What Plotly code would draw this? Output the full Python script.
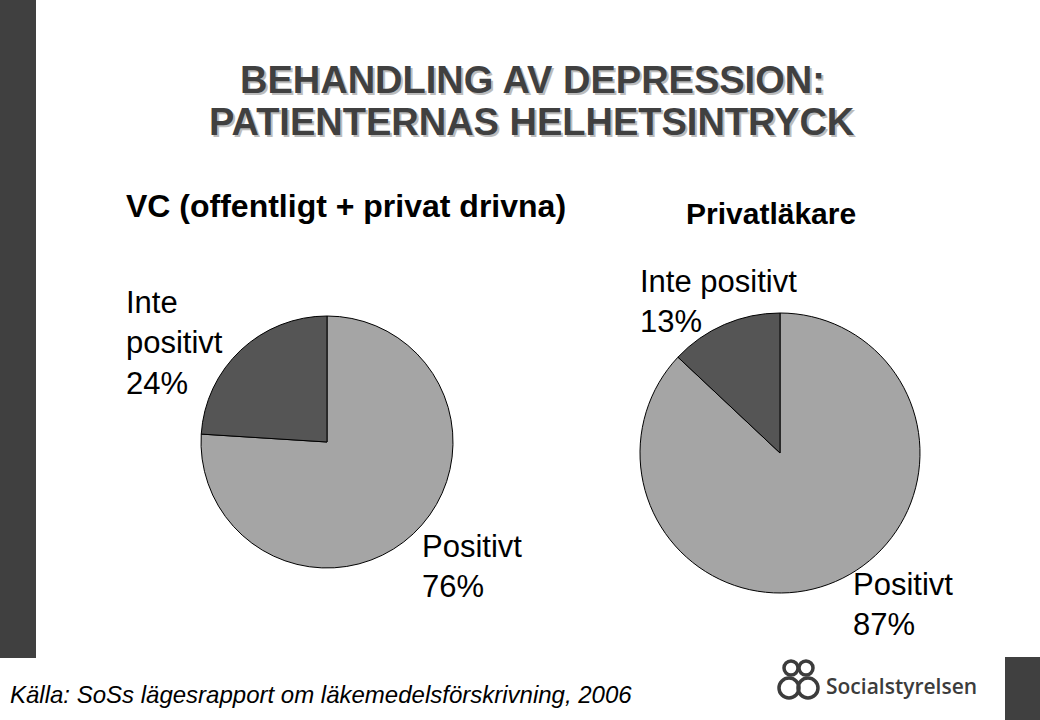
import plotly.graph_objects as go

W, H = 1040, 720

# ---- data ----
categories = ["Positivt", "Inte positivt"]
vc_values = [76, 24]
priv_values = [87, 13]
title_lines = ["BEHANDLING AV DEPRESSION:", "PATIENTERNAS HELHETSINTRYCK"]
sub_vc = "VC (offentligt + privat drivna)"
sub_priv = "Privatläkare"
source = "Källa: SoSs lägesrapport om läkemedelsförskrivning, 2006"
logo_text = "Socialstyrelsen"

colors = ["#a5a5a5", "#555555"]
FONT = "Liberation Sans, Arial, sans-serif"


def px(x):
    return x / W


def py(y):
    return 1 - y / H


def pie_domain(cx, cy, r):
    return dict(x=[px(cx - r), px(cx + r)], y=[py(cy + r), py(cy - r)])


fig = go.Figure()
for vals, dom in [(vc_values, pie_domain(327, 442, 126)),
                  (priv_values, pie_domain(780, 453, 140))]:
    fig.add_trace(go.Pie(
        labels=categories, values=vals, sort=False, direction="clockwise",
        rotation=0, textinfo="none", hoverinfo="label+percent",
        marker=dict(colors=colors, line=dict(color="#000000", width=1)),
        domain=dom, showlegend=False,
    ))

ann = []
# title with shadow
for i, (line, yc) in enumerate(zip(title_lines, [80, 122])):
    ann.append(dict(text=f"<b>{line}</b>", x=px(534), y=py(yc + 2), xanchor="center",
                    yanchor="middle", font=dict(family=FONT, size=38, color="#bcbcbc")))
    ann.append(dict(text=f"<b>{line}</b>", x=px(532), y=py(yc), xanchor="center",
                    yanchor="middle", font=dict(family=FONT, size=38, color="#404040")))

# subtitles
ann.append(dict(text=f"<b>{sub_vc}</b>", x=px(124), y=py(206), xanchor="left", yanchor="middle",
                font=dict(family=FONT, size=32, color="#000000")))
ann.append(dict(text=f"<b>{sub_priv}</b>", x=px(684), y=py(213), xanchor="left", yanchor="middle",
                font=dict(family=FONT, size=30, color="#000000")))

# slice labels
lab_font = dict(family=FONT, size=31, color="#000000")
ann.append(dict(text=f"Inte<br>positivt<br>{vc_values[1]}%", x=px(124), y=py(343),
                xanchor="left", yanchor="middle", align="left", font=lab_font))
ann.append(dict(text=f"{categories[0]}<br>{vc_values[0]}%", x=px(420), y=py(566),
                xanchor="left", yanchor="middle", align="left", font=lab_font))
ann.append(dict(text=f"{categories[1]}<br>{priv_values[1]}%", x=px(638), y=py(301),
                xanchor="left", yanchor="middle", align="left", font=lab_font))
ann.append(dict(text=f"{categories[0]}<br>{priv_values[0]}%", x=px(851), y=py(604),
                xanchor="left", yanchor="middle", align="left", font=lab_font))

# source
ann.append(dict(text=f"<i>{source}</i>", x=px(8), y=py(694), xanchor="left", yanchor="middle",
                font=dict(family=FONT, size=24, color="#000000")))
# logo text
ann.append(dict(text=logo_text, x=px(824), y=py(686), xanchor="left", yanchor="middle",
                font=dict(family="Open Sans, sans-serif", size=21, color="#3c3c3c", weight=600)))

shapes = [
    dict(type="rect", xref="paper", yref="paper", x0=px(0), x1=px(36), y0=py(658), y1=py(0),
         fillcolor="#404040", line=dict(width=0), layer="below"),
    dict(type="rect", xref="paper", yref="paper", x0=px(1005), x1=px(1040), y0=py(720), y1=py(657),
         fillcolor="#404040", line=dict(width=0), layer="below"),
]
# rough logo symbol
for cx, cy, r in [(791, 668, 7), (806, 668, 7), (789, 688, 10), (808, 688, 10)]:
    shapes.append(dict(type="circle", xref="paper", yref="paper",
                       x0=px(cx - r), x1=px(cx + r), y0=py(cy + r), y1=py(cy - r),
                       line=dict(color="#3c3c3c", width=3.5), fillcolor="rgba(0,0,0,0)"))

for a in ann:
    a.update(xref="paper", yref="paper", showarrow=False)

fig.update_layout(
    width=W, height=H, margin=dict(l=0, r=0, t=0, b=0),
    paper_bgcolor="#ffffff", plot_bgcolor="#ffffff",
    annotations=ann, shapes=shapes, showlegend=False,
)

fig.write_html("out.html", config={"displayModeBar": False})
